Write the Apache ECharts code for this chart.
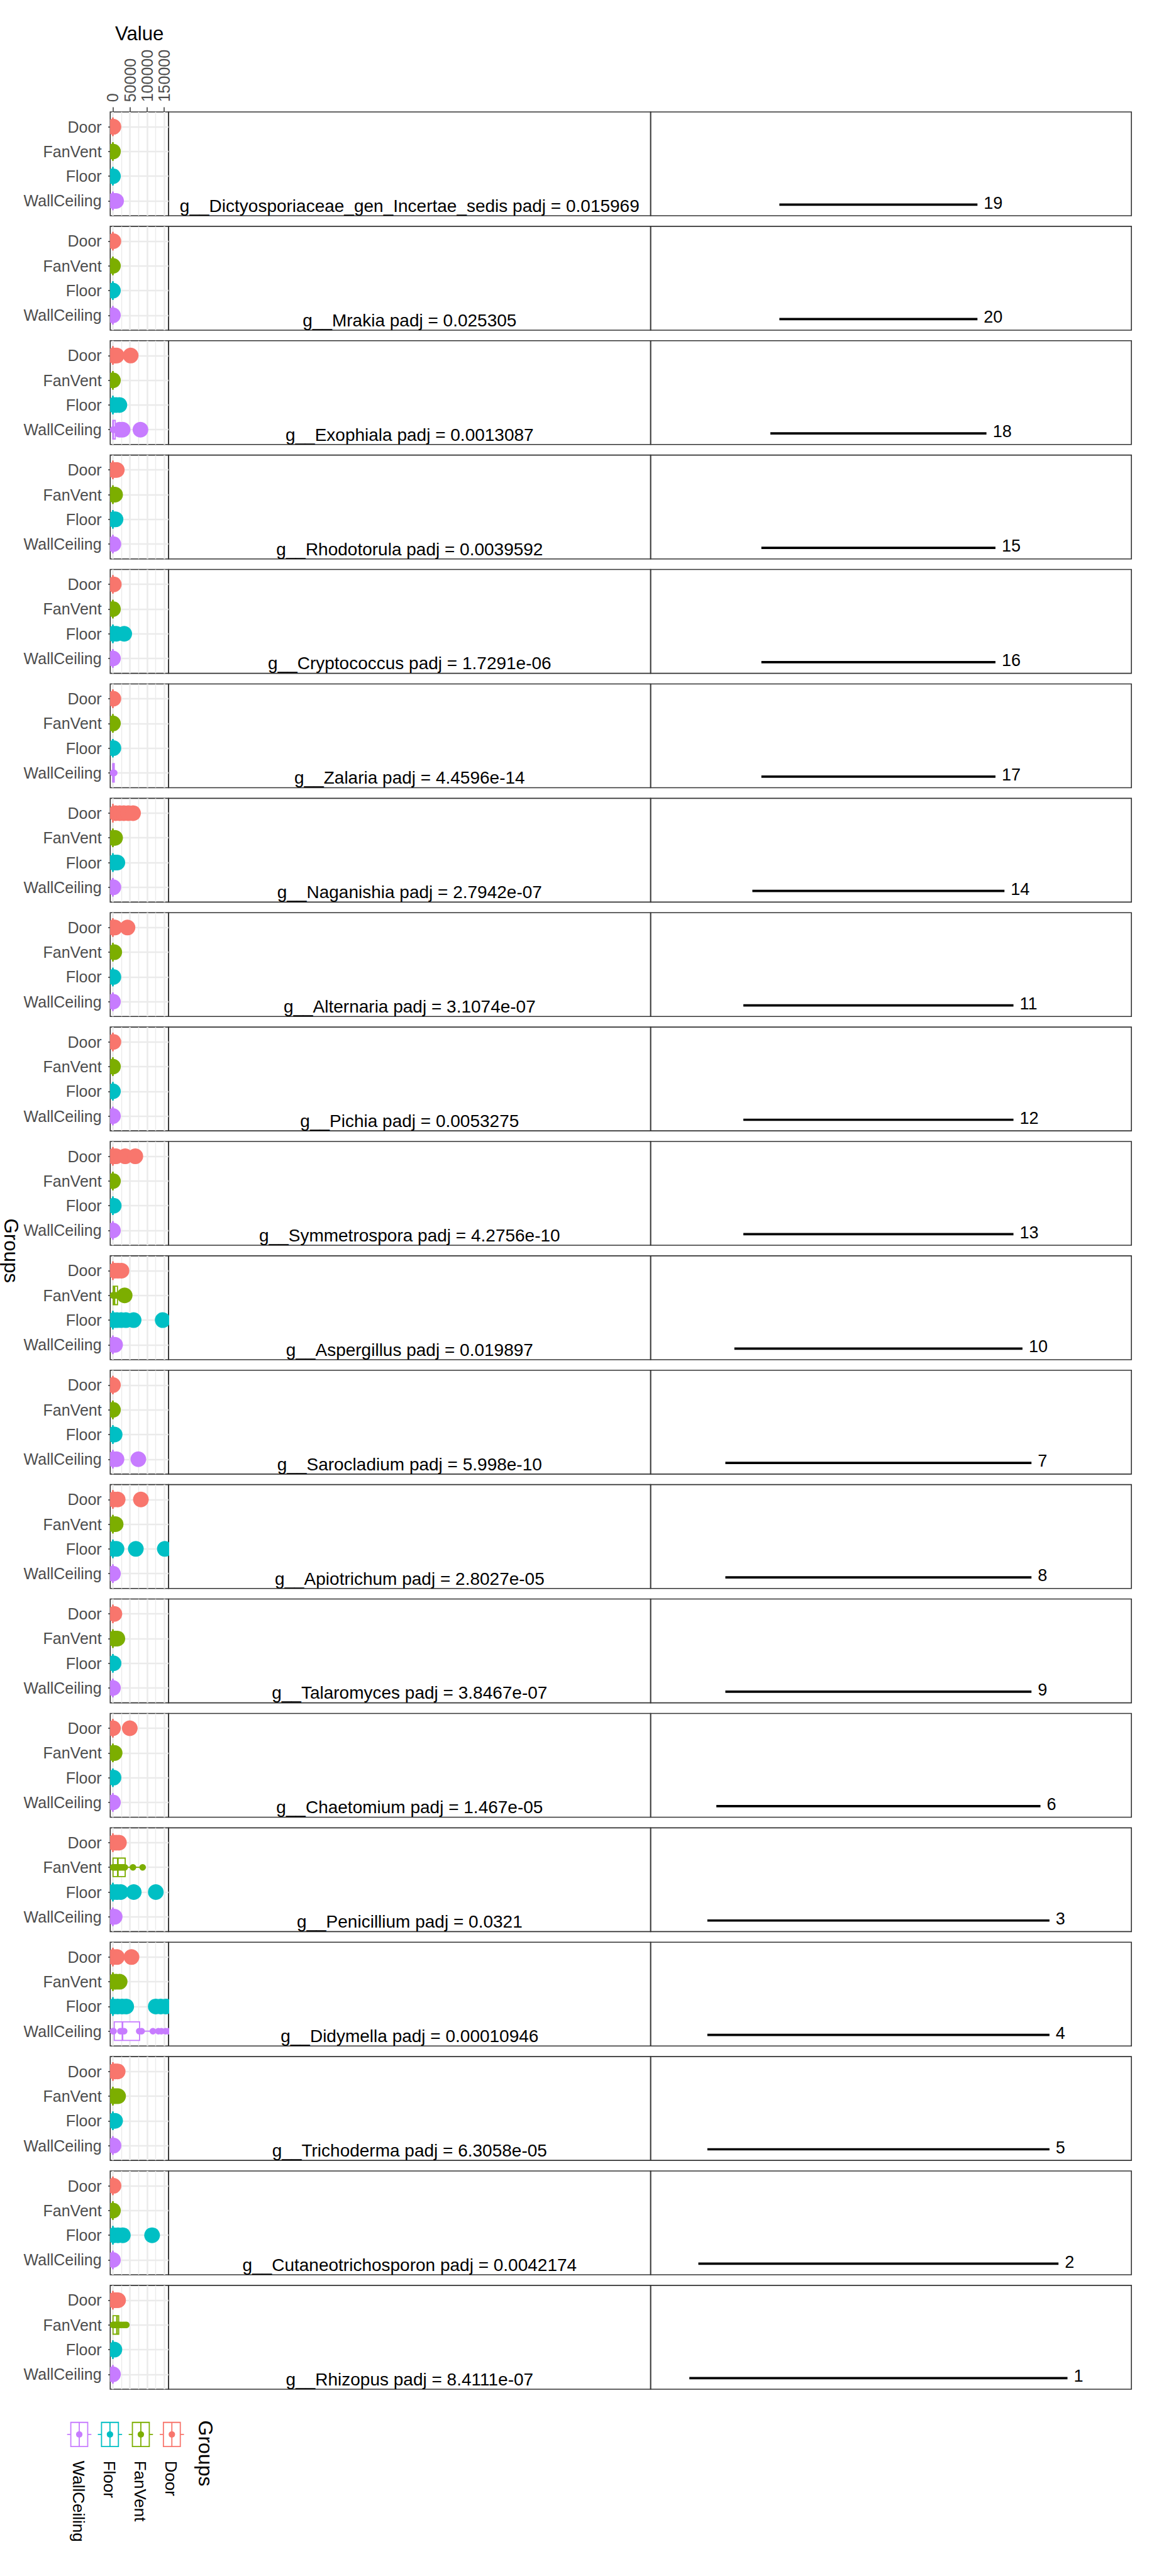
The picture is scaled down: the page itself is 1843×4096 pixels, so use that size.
<!DOCTYPE html>
<html>
<head>
<meta charset="utf-8">
<script src="https://cdn.jsdelivr.net/npm/echarts@6/dist/echarts.min.js"></script>
<style>html,body{margin:0;padding:0;background:#fff}#c{width:1843px;height:4096px}</style>
</head>
<body>
<div id="c"></div>
<script>
// ---------------- DATA ----------------
const groups = ['Door', 'FanVent', 'Floor', 'WallCeiling'];
const groupColors = ['#F8766D', '#7CAE00', '#00BFC4', '#C77CFF'];

const taxa = [
  'g__Dictyosporiaceae_gen_Incertae_sedis', 'g__Mrakia', 'g__Exophiala', 'g__Rhodotorula',
  'g__Cryptococcus', 'g__Zalaria', 'g__Naganishia', 'g__Alternaria', 'g__Pichia',
  'g__Symmetrospora', 'g__Aspergillus', 'g__Sarocladium', 'g__Apiotrichum', 'g__Talaromyces',
  'g__Chaetomium', 'g__Penicillium', 'g__Didymella', 'g__Trichoderma',
  'g__Cutaneotrichosporon', 'g__Rhizopus'
];
const padj = [
  '0.015969', '0.025305', '0.0013087', '0.0039592', '1.7291e-06', '4.4596e-14', '2.7942e-07',
  '3.1074e-07', '0.0053275', '4.2756e-10', '0.019897', '5.998e-10', '2.8027e-05', '3.8467e-07',
  '1.467e-05', '0.0321', '0.00010946', '6.3058e-05', '0.0042174', '8.4111e-07'
];
const rankLabels = [19, 20, 18, 15, 16, 17, 14, 11, 12, 13, 10, 7, 8, 9, 6, 3, 4, 5, 2, 1];
const segHalf = [11, 11, 12, 13, 13, 13, 14, 15, 15, 15, 16, 17, 17, 17, 18, 19, 19, 19, 20, 21];

const valueTicks = [0, 50000, 100000, 150000];
const valueMinorTicks = [25000, 75000, 125000];

// boxplot stats per panel: [lower whisker, Q1, median, Q3, upper whisker]
const boxDoor = [
  [0,0,0,0,0],[0,0,0,0,0],[0,0,0,0,0],[0,0,0,0,0],[0,0,0,0,0],
  [0,0,0,0,0],[0,0,0,0,0],[0,0,0,0,0],[0,0,0,0,0],[0,0,0,0,0],
  [0,0,0,0,0],[0,0,0,0,0],[0,0,0,0,0],[0,0,0,0,0],[0,0,0,0,0],
  [0,0,0,0,0],[0,0,0,0,0],[0,0,0,0,0],[0,0,0,0,0],[0,0,0,0,0]
];
const boxFanVent = [
  [0,0,0,0,0],[0,0,0,0,0],[0,0,0,0,0],[0,0,0,0,0],[0,0,0,0,0],
  [0,0,0,0,0],[0,0,0,0,0],[0,0,0,0,0],[0,0,0,0,0],[0,0,0,0,0],
  [0,1000,4600,13500,14000],[0,0,0,0,0],[0,0,0,0,0],[0,0,0,0,0],[0,0,0,0,0],
  [0,500,14500,36000,87000],[0,0,0,0,0],[0,0,0,0,0],[0,0,0,0,0],[0,500,12000,17000,39500]
];
const boxFloor = [
  [0,0,0,0,0],[0,0,0,0,0],[0,0,0,0,0],[0,0,0,0,0],[0,0,0,0,0],
  [0,0,0,0,0],[0,0,0,0,0],[0,0,0,0,0],[0,0,0,0,0],[0,0,0,0,0],
  [0,0,0,0,0],[0,0,0,0,0],[0,0,0,0,0],[0,0,0,0,0],[0,0,0,0,0],
  [0,0,0,0,0],[0,0,0,0,0],[0,0,0,0,0],[0,0,0,0,0],[0,0,0,0,0]
];
const boxWallCeiling = [
  [0,0,0,0,0],[0,0,0,0,0],[0,0,1000,7000,15000],[0,0,0,0,0],[0,0,0,0,0],
  [0,0,500,4000,6000],[0,0,0,0,0],[0,0,0,0,0],[0,0,0,0,0],[0,0,0,0,0],
  [0,0,0,0,0],[0,0,0,0,0],[0,0,0,0,0],[0,0,0,0,0],[0,0,0,0,0],
  [0,0,0,0,0],[0,4000,28000,78000,175000],[0,0,0,0,0],[0,0,0,0,0],[0,0,0,0,0]
];

// boxplot outliers (large dots)
const outDoor = [
  [800,1500],[1500],[2000,6000,11000,52000],[2000,6000,11500],[2700],
  [1500],[8000,20000,32000,45000,59000],[1500,6000,42700],[1500],[1500,9000,36000,65600],
  [5000,15000,25200],[300],[3000,14000,81900],[4400],[300,49400],
  [3000,10000,17700],[2000,11900,54400],[3000,8000,14000],[1900],[3000,9000,15200]
];
const outFanVent = [
  [300],[200],[200],[2000,6500],[300],
  [300],[2000,6500],[4000],[300],[300],
  [34400],[300],[2000,8100],[3000,8000,13100],[1500,5200],
  [],[3000,10000,19800],[3000,9000,15200],[300],[]
];
const outFloor = [
  [300],[200],[3000,10000,19000],[2500,7700],[2000,10000,33100],
  [1500],[3000,8000,13100],[1500],[300],[2500],
  [3000,12000,24000,38000,60600,145600],[1500,5200],[3000,10600,67100,151900],[1900],[1900],
  [2000,12000,23000,61000,125500],[2000,14000,27000,39000,125400,140000,155000],[2000,6500],[3000,15000,29000,114600],[4400]
];
const outWallCeiling = [
  [1000,4000,9400],[200],[20000,28500,80600],[1500],[300],
  [],[1500],[300],[300],[300],
  [1500,6500],[2000,10600,74400],[300],[300],[300],
  [1500,5200],[],[1900],[300],[300]
];

// individual points (small dots) where they are visible
const ptsDoor = [[],[],[],[],[],[],[],[],[],[],[],[],[],[],[],[],[],[],[],[]];
const ptsFanVent = [
  [],[],[],[],[],[],[],[],[],[],
  [0,1500,3500,5500,8000,11000],[],[],[],[],
  [0,2000,5000,8000,12000,15000,19000,23000,27000,31000,35000,58700,87000],[],[],[],
  [0,2000,4500,7000,10000,12500,15500,19000,24000,30000,35000,39500]
];
const ptsFloor = [[],[],[],[],[],[],[],[],[],[],[],[],[],[],[],[],[],[],[],[]];
const ptsWallCeiling = [
  [],[],[0,1000,3000,6000],[],[],
  [0,600,1400,2500,4000],[],[],[],[],
  [],[],[],[],[],
  [],[0,2000,22000,27000,33000,77000,84000,117000,133000,142000,154000,162000],[],[],[]
];

// ---------------- LAYOUT ----------------
const S = 0.682;
const FONT = "'Liberation Sans', Arial, Helvetica, sans-serif";
const boxes = [boxDoor, boxFanVent, boxFloor, boxWallCeiling];
const outliers = [outDoor, outFanVent, outFloor, outWallCeiling];
const points = [ptsDoor, ptsFanVent, ptsFloor, ptsWallCeiling];

const nP = taxa.length;
const panelTop = k => (261 + 266.7 * k) * S;
const PH = 242 * S;
const LX = 257 * S, MX = 393 * S, RX = 1517 * S, EX = 2638 * S;

const grid = [], xAxis = [], yAxis = [], series = [];
const border = { show: true, borderColor: '#333333', borderWidth: 1.6, backgroundColor: 'transparent' };

function leftRender(k) {
  return function (params, api) {
    const gi = params.dataIndex;
    const st = boxes[gi][k], outs = outliers[gi][k], pts = points[gi][k];
    const col = groupColors[gi];
    const yv = gi + 1;
    const cy = api.coord([0, yv])[1];
    const hh = Math.abs(api.size([0, 0.375])[1]);
    const px = v => api.coord([v, yv])[0];
    const ch = [];
    outs.forEach(v => ch.push({ type: 'circle', shape: { cx: px(v), cy: cy, r: 12.5 }, style: { fill: col } }));
    ch.push({ type: 'line', shape: { x1: px(st[0]), y1: cy, x2: px(st[1]), y2: cy }, style: { stroke: col, lineWidth: 1.8 } });
    ch.push({ type: 'line', shape: { x1: px(st[3]), y1: cy, x2: px(st[4]), y2: cy }, style: { stroke: col, lineWidth: 1.8 } });
    const bw = px(st[3]) - px(st[1]);
    if (bw > 0.5) {
      ch.push({ type: 'rect', shape: { x: px(st[1]), y: cy - hh, width: bw, height: 2 * hh }, style: { fill: '#ffffff', stroke: col, lineWidth: 1.8 } });
    } else {
      ch.push({ type: 'line', shape: { x1: px(st[1]), y1: cy - hh, x2: px(st[1]), y2: cy + hh }, style: { stroke: col, lineWidth: 1.8 } });
    }
    ch.push({ type: 'line', shape: { x1: px(st[2]), y1: cy - hh, x2: px(st[2]), y2: cy + hh }, style: { stroke: col, lineWidth: 2.7 } });
    pts.forEach(v => ch.push({ type: 'circle', shape: { cx: px(v), cy: cy, r: 5.2 }, style: { fill: col } }));
    return { type: 'group', children: ch };
  };
}

for (let k = 0; k < nP; k++) {
  const top = panelTop(k);
  grid.push(Object.assign({ left: LX, top: top, width: MX - LX, height: PH }, border));
  grid.push(Object.assign({ left: MX, top: top, width: RX - MX, height: PH }, border));
  grid.push(Object.assign({ left: RX, top: top, width: EX - RX, height: PH }, border));

  // left panel axes
  xAxis.push({
    gridIndex: 3 * k, type: 'value', position: 'top', min: -7750, max: 162750,
    axisLine: { show: false },
    axisTick: { show: k === 0, customValues: valueTicks, length: 7.5, lineStyle: { color: '#333333', width: 1.5 } },
    axisLabel: { show: k === 0, customValues: valueTicks, rotate: -90, margin: 15.7, fontSize: 25, color: '#4D4D4D', fontFamily: FONT, formatter: v => String(v) },
    splitLine: { show: true, lineStyle: { color: '#EBEBEB', width: 2.6 } }
  });
  xAxis.push({
    gridIndex: 3 * k, type: 'value', position: 'bottom', min: -7750, max: 162750,
    axisLine: { show: false },
    axisTick: { show: false, customValues: valueMinorTicks },
    axisLabel: { show: false },
    splitLine: { show: true, lineStyle: { color: '#EBEBEB', width: 1.4 } }
  });
  xAxis.push({ gridIndex: 3 * k + 1, type: 'value', min: 0, max: 1, show: false });
  xAxis.push({ gridIndex: 3 * k + 2, type: 'value', min: -25.3, max: 28.1, show: false });

  yAxis.push({
    gridIndex: 3 * k, type: 'value', inverse: true, min: 0.4, max: 4.6,
    axisLine: { show: false },
    axisTick: { show: true, customValues: [1, 2, 3, 4], length: 7.5, lineStyle: { color: '#333333', width: 1.5 } },
    axisLabel: { show: true, customValues: [1, 2, 3, 4], margin: 13.6, fontSize: 25, color: '#4D4D4D', fontFamily: FONT, formatter: v => groups[Math.round(v) - 1] },
    splitLine: { show: true, lineStyle: { color: '#EBEBEB', width: 2.4 } }
  });
  yAxis.push({ gridIndex: 3 * k + 1, type: 'value', inverse: true, min: 0, max: 1, show: false });
  yAxis.push({ gridIndex: 3 * k + 2, type: 'value', inverse: true, min: 0, max: 1, show: false });

  series.push({
    type: 'custom', xAxisIndex: 4 * k, yAxisIndex: 3 * k, clip: true, silent: true,
    data: groups.map((g, i) => [0, i + 1]),
    renderItem: leftRender(k)
  });
  series.push({
    type: 'custom', xAxisIndex: 4 * k + 2, yAxisIndex: 3 * k + 1, silent: true,
    data: [[0.5, 0.905]],
    renderItem: (params, api) => {
      const p = api.coord([api.value(0), api.value(1)]);
      return { type: 'text', x: p[0], y: p[1], style: { text: taxa[k] + ' padj = ' + padj[k], fill: '#000000', fontSize: 28, fontFamily: FONT, align: 'center', verticalAlign: 'middle' } };
    }
  });
  series.push({
    type: 'custom', xAxisIndex: 4 * k + 3, yAxisIndex: 3 * k + 2, silent: true,
    data: [[-segHalf[k], segHalf[k]]],
    renderItem: (params, api) => {
      const a = api.coord([api.value(0), 0.893]);
      const b = api.coord([api.value(1), 0.893]);
      const t = api.coord([api.value(1) + 0.7, 0.876]);
      return { type: 'group', children: [
        { type: 'line', shape: { x1: a[0], y1: a[1], x2: b[0], y2: b[1] }, style: { stroke: '#000000', lineWidth: 3.7 } },
        { type: 'text', x: t[0], y: t[1], style: { text: String(rankLabels[k]), fill: '#000000', fontSize: 27, fontFamily: FONT, align: 'left', verticalAlign: 'middle' } }
      ] };
    }
  });
}

// ---------------- TITLES & LEGEND ----------------
const graphics = [];
graphics.push({ type: 'text', x: 325 * S, y: 79 * S, style: { text: 'Value', fill: '#000000', fontSize: 31.2, fontFamily: FONT, align: 'center', verticalAlign: 'middle' } });
graphics.push({ type: 'text', x: 26 * S, y: 2916 * S, rotation: -Math.PI / 2, style: { text: 'Groups', fill: '#000000', fontSize: 31.2, fontFamily: FONT, align: 'center', verticalAlign: 'middle' } });

const legendOrder = [3, 2, 1, 0];
const legendX = [184.8, 256.4, 328.4, 400.7];
const keyCY = 5675.7 * S, keyTop = 5647.7 * S, keyH = 56.3 * S, keyW = 39.4 * S, whisk = 28.3 * S;
legendOrder.forEach((gi, j) => {
  const cx = legendX[j] * S;
  const col = groupColors[gi];
  graphics.push({ type: 'line', shape: { x1: cx - whisk, y1: keyCY, x2: cx + whisk, y2: keyCY }, style: { stroke: col, lineWidth: 1.8 } });
  graphics.push({ type: 'rect', shape: { x: cx - keyW / 2, y: keyTop, width: keyW, height: keyH }, style: { fill: '#ffffff', stroke: col, lineWidth: 1.8 } });
  graphics.push({ type: 'line', shape: { x1: cx, y1: keyTop, x2: cx, y2: keyTop + keyH }, style: { stroke: col, lineWidth: 1.8 } });
  graphics.push({ type: 'circle', shape: { cx: cx, cy: keyCY, r: 5.1 }, style: { fill: col } });
  graphics.push({ type: 'text', x: cx - 1, y: 5737 * S, rotation: -Math.PI / 2, style: { text: groups[gi], fill: '#000000', fontSize: 26, fontFamily: FONT, align: 'left', verticalAlign: 'middle' } });
});
graphics.push({ type: 'text', x: 479 * S, y: 5643 * S, rotation: -Math.PI / 2, style: { text: 'Groups', fill: '#000000', fontSize: 32, fontFamily: FONT, align: 'left', verticalAlign: 'middle' } });

const chart = echarts.init(document.getElementById('c'), null, { renderer: 'svg' });
chart.setOption({
  backgroundColor: '#ffffff',
  animation: false,
  grid: grid,
  xAxis: xAxis,
  yAxis: yAxis,
  series: series,
  graphic: { elements: graphics }
});
</script>
</body>
</html>
